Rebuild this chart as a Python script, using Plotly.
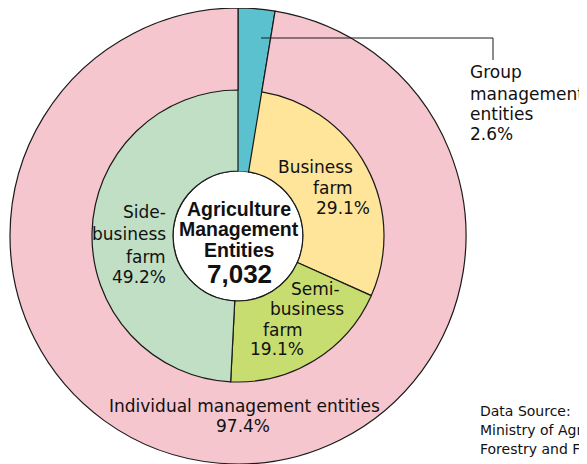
import plotly.graph_objects as go

# Data (percent of all agriculture management entities)
outer_labels = ["Group management entities", "Individual management entities"]
outer_values = [2.6, 97.4]
outer_colors = ["#5CC1CE", "#F6C6CE"]

inner_labels = ["Group management entities", "Business farm", "Semi-business farm", "Side-business farm"]
inner_values = [2.6, 29.1, 19.1, 49.2]
inner_colors = ["#5CC1CE", "#FEE599", "#C8DD6F", "#C1DFC4"]

total_entities = 7032

# Figure geometry in pixels (page has an 8px body margin)
W, H, OFF = 587, 464, 8
CX, CY = 238, 236
R_OUT, R_IN, R_HOLE = 228, 146, 65


def px(x):
    return (x - OFF) / W


def py(y):
    return (H - (y - OFF)) / H


LABEL_FONT = dict(family="DejaVu Sans", size=17, color="#111")
CENTER_FONT = dict(family="Liberation Sans, Arial", size=19.5, color="#111", weight="bold")

fig = go.Figure()

# Outer ring: group vs individual
fig.add_trace(go.Pie(
    labels=outer_labels, values=outer_values, sort=False, direction="clockwise", rotation=0,
    hole=R_HOLE / R_OUT, textinfo="none", hoverinfo="label+percent",
    marker=dict(colors=outer_colors, line=dict(color="#1a1a1a", width=1.2)),
    domain=dict(x=[px(CX - R_OUT), px(CX + R_OUT)], y=[py(CY + R_OUT), py(CY - R_OUT)]),
))

# Inner ring: breakdown of individual entities
fig.add_trace(go.Pie(
    labels=inner_labels, values=inner_values, sort=False, direction="clockwise", rotation=0,
    hole=R_HOLE / R_IN, textinfo="none", hoverinfo="label+percent",
    marker=dict(colors=inner_colors, line=dict(color="#1a1a1a", width=[0, 1.2, 1.2, 1.2])),
    domain=dict(x=[px(CX - R_IN), px(CX + R_IN)], y=[py(CY + R_IN), py(CY - R_IN)]),
))

annotations = []


def add_line(text, x, baseline, anchor="center", font=LABEL_FONT):
    size = font["size"]
    annotations.append(dict(
        text=text, x=px(x), y=py(baseline - 0.36 * size), xref="paper", yref="paper",
        xanchor=anchor, yanchor="middle", showarrow=False, font=font, borderpad=0,
    ))


# Group management entities label (outside, with leader line)
for txt, bl in zip(["Group", "management", "entities", f"{outer_values[0]}%"], [78, 100, 120, 140]):
    add_line(txt, 469, bl, "left")

# Individual management entities label
add_line(outer_labels[1], 244, 412)
add_line(f"{outer_values[1]}%", 243, 432)

# Business farm
add_line("Business", 315, 173)
add_line("farm", 333, 194)
add_line(f"{inner_values[1]}%", 343, 214)

# Semi-business farm
add_line("Semi-", 315, 295)
add_line("business", 307, 315)
add_line("farm", 283, 336)
add_line(f"{inner_values[2]}%", 277, 355)

# Side-business farm
for txt, bl in zip(["Side-", "business", "farm", f"{inner_values[3]}%"], [218, 240, 263, 283]):
    add_line(txt, 167, bl, "right")

# Centre
add_line("Agriculture", 239.5, 216, font=CENTER_FONT)
add_line("Management", 239.5, 236, font=CENTER_FONT)
add_line("Entities", 239.5, 257, font=CENTER_FONT)
add_line(f"{total_entities:,}", 239.5, 283, font=dict(CENTER_FONT, size=26))

# Data source note
src_font = dict(family="DejaVu Sans", size=14, color="#111")
for txt, bl in zip(["Data Source:", "Ministry of Agriculture,", "Forestry and Fisheries"], [416, 435, 454]):
    add_line(txt, 479, bl, "left", font=src_font)

fig.update_layout(
    width=W, height=H,
    margin=dict(l=0, r=0, t=0, b=0),
    showlegend=False,
    paper_bgcolor="white",
    annotations=annotations,
    shapes=[dict(
        type="path", xref="paper", yref="paper",
        path=f"M {px(261)},{py(38)} L {px(493)},{py(38)} L {px(493)},{py(60)}",
        line=dict(color="#1a1a1a", width=1),
    )],
)

fig.write_html("out.html")
